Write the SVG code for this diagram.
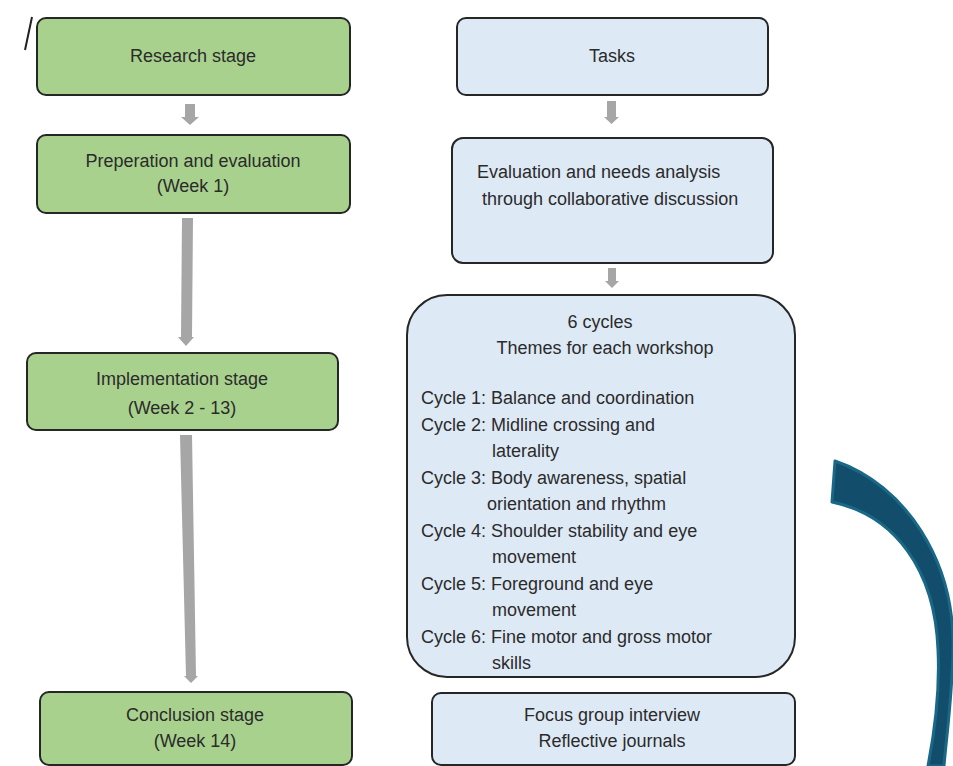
<svg xmlns="http://www.w3.org/2000/svg" width="953" height="766" viewBox="0 0 953 766">
  <style>
    .stage { fill: #a9d18e; stroke: #262626; stroke-width: 2; }
    .task { fill: #dee9f6; stroke: #262626; stroke-width: 2; }
    text { font-family: "Liberation Sans", Arial, sans-serif; font-size: 18px; fill: #2b2b2b; }
    .c { text-anchor: middle; }
    .flow { fill: #a6a6a6; }
  </style>
  <rect width="953" height="766" fill="#ffffff"/>

  <!-- stray stroke at top-left -->
  <line x1="32" y1="17" x2="25" y2="50" stroke="#222" stroke-width="2"/>

  <!-- left column: stages -->
  <g id="research-stage">
    <rect class="stage" x="37" y="18" width="313" height="77" rx="9"/>
    <text class="c" x="193" y="62">Research stage</text>
  </g>
  <g id="preparation">
    <rect class="stage" x="37" y="135" width="313" height="78" rx="9"/>
    <text class="c" x="193" y="167">Preperation and evaluation</text>
    <text class="c" x="193" y="192">(Week 1)</text>
  </g>
  <g id="implementation">
    <rect class="stage" x="27" y="353" width="311" height="77" rx="9"/>
    <text class="c" x="182" y="385">Implementation stage</text>
    <text class="c" x="182" y="414">(Week 2 - 13)</text>
  </g>
  <g id="conclusion">
    <rect class="stage" x="40" y="692" width="312" height="73" rx="9"/>
    <text class="c" x="195" y="721">Conclusion stage</text>
    <text class="c" x="195" y="747">(Week 14)</text>
  </g>

  <!-- right column: tasks -->
  <g id="tasks">
    <rect class="task" x="457" y="18" width="311" height="77" rx="9"/>
    <text class="c" x="612" y="62">Tasks</text>
  </g>
  <g id="needs-analysis">
    <rect class="task" x="452" y="138" width="321" height="125" rx="11"/>
    <text x="477" y="178">Evaluation and needs analysis</text>
    <text x="482" y="205">through collaborative discussion</text>
  </g>
  <g id="cycles">
    <rect class="task" x="407" y="295" width="388" height="382" rx="40"/>
    <text class="c" x="600" y="328">6 cycles</text>
    <text class="c" x="605" y="354">Themes for each workshop</text>
    <text x="421" y="404">Cycle 1: Balance and coordination</text>
    <text x="421" y="430.5">Cycle 2: Midline crossing and</text>
    <text x="492" y="457">laterality</text>
    <text x="421" y="483.5">Cycle 3: Body awareness, spatial</text>
    <text x="487" y="510">orientation and rhythm</text>
    <text x="421" y="536.5">Cycle 4: Shoulder stability and eye</text>
    <text x="492" y="563">movement</text>
    <text x="421" y="589.5">Cycle 5: Foreground and eye</text>
    <text x="492" y="616">movement</text>
    <text x="421" y="642.5">Cycle 6: Fine motor and gross motor</text>
    <text x="492" y="669">skills</text>
  </g>
  <g id="data-collection">
    <rect class="task" x="432" y="693" width="363" height="72" rx="9"/>
    <text class="c" x="612" y="721">Focus group interview</text>
    <text class="c" x="612" y="747">Reflective journals</text>
  </g>

  <!-- connectors -->
  <g id="connectors">
    <path class="flow" d="M185,104 H195 V117 H199 L190,125 L181,117 H185 Z"/>
    <path class="flow" d="M182,218 L193,218 L192,337 L194,337 L186,346 L178,337 L181,337 Z"/>
    <path class="flow" d="M180,435 L192,435 L196,676 L198,676 L191,683 L184,676 L186,676 Z"/>
    <path class="flow" d="M607,101 H616 V117 H619 L611.5,124 L604,117 H607 Z"/>
    <path class="flow" d="M608,268 H616 V281 H619 L612,288 L605,281 H608 Z"/>
  </g>

  <!-- curved feedback arrow on the right -->
  <g id="feedback-arrow">
    <path d="M835,461 C905,485 955,560 953,650 C952,700 946,740 944,766 L928,766 C935,730 940,690 938,650 C935,570 895,515 832,502 Z"
          fill="#124e6b" stroke="#1a6888" stroke-width="3" stroke-linejoin="round"/>
  </g>
</svg>
